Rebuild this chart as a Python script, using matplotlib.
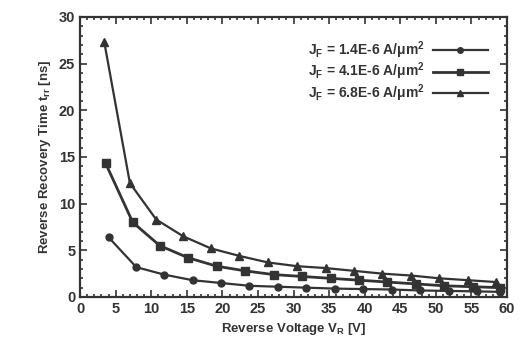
import matplotlib
matplotlib.use('Agg')
import matplotlib.pyplot as plt
from matplotlib.ticker import MultipleLocator

plt.rcParams['font.family'] = ['Liberation Sans', 'DejaVu Sans']
plt.rcParams['mathtext.default'] = 'regular'

INK = '#333333'

# J_F = 1.4E-6 A/um^2 (circles)
v_low = [4.0, 7.9, 11.8, 15.8, 19.8, 23.8, 27.8, 31.8, 35.8, 39.8, 43.8, 47.8, 51.8, 55.8, 59.0]
t_low = [6.4, 3.2, 2.4, 1.8, 1.5, 1.2, 1.1, 1.0, 0.9, 0.85, 0.8, 0.7, 0.65, 0.6, 0.55]

# J_F = 4.1E-6 A/um^2 (squares)
v_mid = [3.6, 7.4, 11.2, 15.2, 19.2, 23.2, 27.2, 31.2, 35.2, 39.2, 43.2, 47.2, 51.2, 55.2, 59.0]
t_mid = [14.3, 8.0, 5.5, 4.2, 3.3, 2.8, 2.4, 2.2, 2.0, 1.8, 1.6, 1.4, 1.2, 1.1, 1.0]

# J_F = 6.8E-6 A/um^2 (triangles)
v_high = [3.4, 7.0, 10.7, 14.5, 18.4, 22.4, 26.4, 30.5, 34.5, 38.5, 42.5, 46.5, 50.5, 54.5, 58.5]
t_high = [27.3, 12.2, 8.3, 6.5, 5.2, 4.4, 3.7, 3.3, 3.1, 2.8, 2.5, 2.3, 2.0, 1.8, 1.6]

labels = [r'J$_F$ = 1.4E-6 A/$\mu$m$^2$',
          r'J$_F$ = 4.1E-6 A/$\mu$m$^2$',
          r'J$_F$ = 6.8E-6 A/$\mu$m$^2$']

fig = plt.figure(figsize=(5.2, 3.6), dpi=100)
ax = fig.add_axes([0.154, 0.175, 0.821, 0.778])

ax.plot(v_low, t_low, color=INK, lw=1.6, marker='o', ms=5, label=labels[0])
ax.plot(v_mid, t_mid, color=INK, lw=2.0, marker='s', ms=6, label=labels[1])
ax.plot(v_high, t_high, color=INK, lw=1.6, marker='^', ms=6, label=labels[2])

ax.set_xlim(0, 60)
ax.set_ylim(0, 30)
ax.xaxis.set_major_locator(MultipleLocator(5))
ax.xaxis.set_minor_locator(MultipleLocator(1))
ax.yaxis.set_major_locator(MultipleLocator(5))
ax.yaxis.set_minor_locator(MultipleLocator(1))
ax.tick_params(which='both', direction='in', top=True, right=True, colors=INK,
               labelsize=10.5, width=1.2)
ax.tick_params(which='major', length=5)
ax.tick_params(which='minor', length=2.5)
for lab in ax.get_xticklabels() + ax.get_yticklabels():
    lab.set_fontweight('bold')
for s in ax.spines.values():
    s.set_color(INK)
    s.set_linewidth(1.6)

ax.set_xlabel(r'Reverse Voltage V$_R$ [V]', fontsize=9.5, fontweight='bold', color=INK)
ax.set_ylabel(r'Reverse Recovery Time t$_{rr}$ [ns]', fontsize=9.5, fontweight='bold', color=INK)

leg = ax.legend(loc='upper right', frameon=False, markerfirst=False, fontsize=10,
                handlelength=4.0, handletextpad=0.6, labelspacing=0.0, borderaxespad=0.5,
                markerscale=0.8, bbox_to_anchor=(0.985, 0.965))
for t in leg.get_texts():
    t.set_color(INK)
    t.set_fontweight('bold')

fig.savefig('out.png', dpi=100)
